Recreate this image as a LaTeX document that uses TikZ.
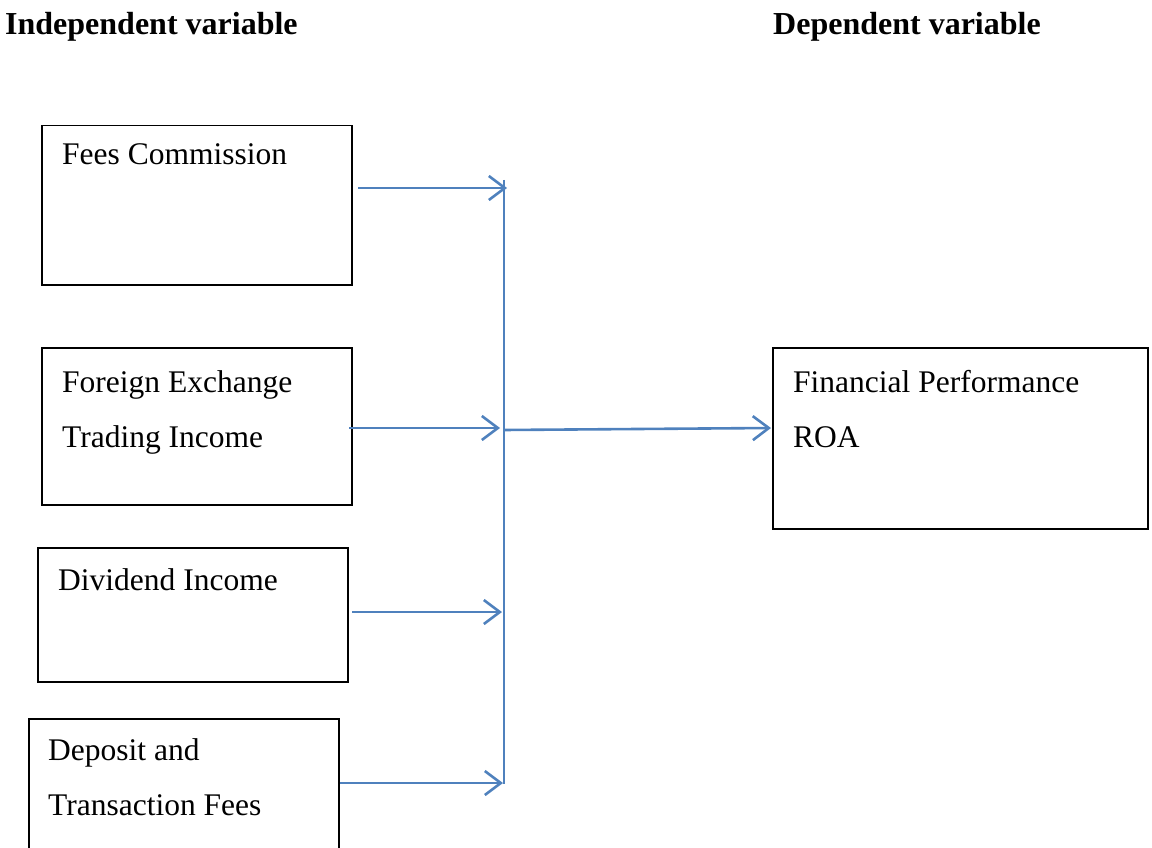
\documentclass[tikz,border=0pt]{standalone}
\usepackage{fontspec}
\setmainfont{Liberation Serif}
\usetikzlibrary{arrows.meta}
\tikzset{
  box/.style={draw=black, line width=1.5pt, anchor=north west, inner sep=0pt},
  lbl/.style={anchor=base west, inner sep=0pt, font=\fontsize{31.5}{38}\selectfont},
  hdr/.style={anchor=base west, inner sep=0pt, font=\fontsize{32}{38}\selectfont\bfseries},
  conn/.style={draw={rgb,255:red,79;green,129;blue,189}, line width=2.6pt},
  arr/.style={conn, -{Straight Barb[length=16pt,width=24pt,line width=2.6pt]}}
}
\begin{document}
\begin{tikzpicture}[x=1pt,y=-1pt]
\useasboundingbox (0,0) rectangle (1152,848);
\clip (0,0) rectangle (1152,848);
% headers
\node[hdr] (h1) at (5,35) {Independent variable};
\node[hdr] (h2) at (773,35) {Dependent variable};
% boxes
\node[box, minimum width=310pt, minimum height=159pt] (b1) at (41,125) {};
\node[box, minimum width=310pt, minimum height=157pt] (b2) at (41,347) {};
\node[box, minimum width=310pt, minimum height=134pt] (b3) at (37,547) {};
\node[box, minimum width=310pt, minimum height=150pt] (b4) at (28,718) {};
\node[box, minimum width=375pt, minimum height=181pt] (r) at (772,347) {};
% labels
\node[lbl] (t1) at (62,165) {Fees Commission};
\node[lbl] (t2a) at (62,392) {Foreign Exchange};
\node[lbl] (t2b) at (62,447) {Trading Income};
\node[lbl] (t3) at (58,590) {Dividend Income};
\node[lbl] (t4a) at (48,760) {Deposit and};
\node[lbl] (t4b) at (48,815) {Transaction Fees};
\node[lbl] (tr1) at (793,392) {Financial Performance};
\node[lbl] (tr2) at (793,447) {ROA};
% connector coordinates
\coordinate (s1) at (358,188); \coordinate (e1) at (507,188);
\coordinate (s2) at (349,428); \coordinate (e2) at (500,428);
\coordinate (s3) at (352,612); \coordinate (e3) at (502,612);
\coordinate (s4) at (340,783); \coordinate (e4) at (503,783);
\coordinate (vt) at (504,180); \coordinate (vb) at (504,784);
\coordinate (j) at (504,430); \coordinate (re) at (r.west |- 0,428);
% connectors
\draw[conn] (vt) -- (vb);
\draw[arr] (s1) -- (e1);
\draw[arr] (s2) -- (e2);
\draw[arr] (s3) -- (e3);
\draw[arr] (s4) -- (e4);
\draw[arr] (j) -- ([xshift=-1pt]re);
\end{tikzpicture}
\end{document}
